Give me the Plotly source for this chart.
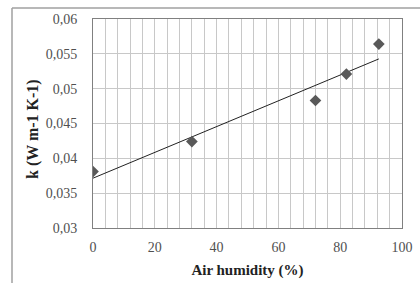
import numpy as np
import plotly.graph_objects as go

humidity = [0, 32, 72, 82, 92.5]
conductivity = [0.0381, 0.0424, 0.0483, 0.0521, 0.0564]
x_ticks = [0, 20, 40, 60, 80, 100]
y_ticks = [0.03, 0.035, 0.04, 0.045, 0.05, 0.055, 0.06]

slope, intercept = np.polyfit(humidity, conductivity, 1)
trend_x = [min(humidity), max(humidity)]
trend_y = [intercept + slope * v for v in trend_x]

W, H = 420, 283
L, R, T, B = 93, 18, 19, 55
pw, ph = W - L - R, H - T - B

def px(x):
    return (x - L) / pw

def py(y):
    return (H - B - y) / ph

fig = go.Figure()
fig.add_trace(go.Scatter(x=trend_x, y=trend_y, mode="lines",
                         line=dict(color="#222222", width=1), showlegend=False,
                         hoverinfo="skip"))
fig.add_trace(go.Scatter(x=humidity, y=conductivity, mode="markers",
                         marker=dict(symbol="diamond", size=9, color="#595959"),
                         showlegend=False))

font_family = "Liberation Serif, Times New Roman, serif"
fig.update_layout(
    width=W, height=H,
    margin=dict(l=L, r=R, t=T, b=B, autoexpand=False),
    paper_bgcolor="white", plot_bgcolor="white",
    separators=", ",
    font=dict(family=font_family, size=14, color="#333333"),
    xaxis=dict(range=[0, 100], tickvals=x_ticks, showgrid=True,
               gridcolor="#c8c8c8", gridwidth=1, zeroline=False,
               minor=dict(dtick=4, tick0=0, showgrid=True, gridcolor="#c8c8c8", gridwidth=1),
               showline=True, linecolor="#808080", linewidth=1, mirror=True,
               ticks="", ticklen=0, ticklabelstandoff=6,
               title=dict(text="<b>Air humidity (%)</b>", font=dict(size=15, color="#222222"),
                          standoff=10),
               tickfont=dict(size=14, color="#505050")),
    yaxis=dict(range=[0.03, 0.06], tickvals=y_ticks, showgrid=True,
               gridcolor="#c8c8c8", gridwidth=1, zeroline=False,
               showline=True, linecolor="#808080", linewidth=1, mirror=True,
               ticks="", ticklen=0, ticklabelstandoff=12,
               tickfont=dict(size=14, color="#505050")),
    annotations=[
        dict(text="<b>k (W m-1 K-1)</b>", xref="paper", yref="paper",
             x=px(33), y=py(129), textangle=-90, showarrow=False,
             xanchor="center", yanchor="middle",
             font=dict(size=16, color="#222222", family=font_family)),
    ],
    shapes=[
        dict(type="line", xref="paper", yref="paper", x0=px(12), x1=px(420),
             y0=py(8), y1=py(8), line=dict(color="#a0a0a0", width=1.5)),
        dict(type="line", xref="paper", yref="paper", x0=px(12), x1=px(12),
             y0=py(8), y1=py(283), line=dict(color="#a0a0a0", width=1.5)),
    ],
)
fig.write_html("out.html", config={"displayModeBar": False},
               post_script="document.body.style.margin='0';document.body.style.overflow='hidden';")
